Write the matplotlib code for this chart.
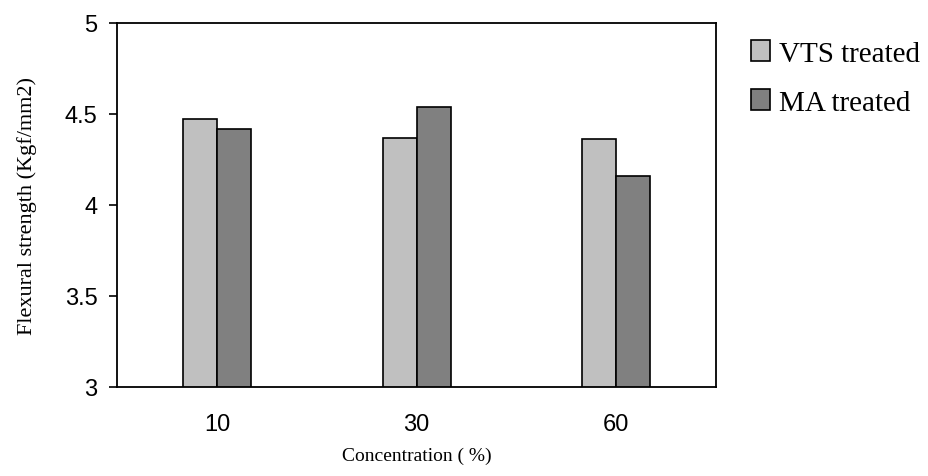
import numpy as np
import matplotlib
matplotlib.use('Agg')
import matplotlib.pyplot as plt
from matplotlib.patches import Patch

concentrations = ['10', '30', '60']
vts_treated = [4.47, 4.37, 4.36]
ma_treated = [4.42, 4.54, 4.16]
yticks = [3, 3.5, 4, 4.5, 5]

serif = 'Liberation Serif'
sans = 'Liberation Sans'

fig = plt.figure(figsize=(9.29, 4.77), dpi=100)
ax = fig.add_axes([0.126, 0.1866, 0.645, 0.7631])

x = np.arange(len(concentrations))
w = 0.17
ax.bar(x - w / 2, vts_treated, w, bottom=0, color='#c0c0c0', edgecolor='black', linewidth=1.2)
ax.bar(x + w / 2, ma_treated, w, bottom=0, color='#808080', edgecolor='black', linewidth=1.2)

ax.set_xlim(-0.5, 2.5)
ax.set_ylim(3, 5)
ax.set_yticks(yticks)
ax.set_yticklabels(['3', '3.5', '4', '4.5', '5'], fontfamily=sans, fontsize=17)
ax.set_xticks(x)
ax.set_xticklabels(concentrations, fontfamily=sans, fontsize=17)
ax.tick_params(axis='x', length=0, pad=19)
ax.tick_params(axis='y', length=6, width=1.2, pad=8, direction='out')
for s in ax.spines.values():
    s.set_linewidth(1.3)

ax.set_xlabel('Concentration ( %)', fontfamily=serif, fontsize=14, labelpad=8)
ax.set_ylabel('Flexural strength (Kgf/mm2)', fontfamily=serif, fontsize=16, labelpad=20)

handles = [Patch(facecolor='#c0c0c0', edgecolor='black', linewidth=1.2, label='VTS treated'),
           Patch(facecolor='#808080', edgecolor='black', linewidth=1.2, label='MA treated')]
fig.legend(handles=handles, loc='upper left', bbox_to_anchor=(0.808, 0.913), frameon=False,
           prop={'family': serif, 'size': 21}, handlelength=0.68, handleheight=0.68,
           handletextpad=0.28, labelspacing=0.78, borderpad=0, borderaxespad=0)

fig.savefig('out.png', dpi=100)
